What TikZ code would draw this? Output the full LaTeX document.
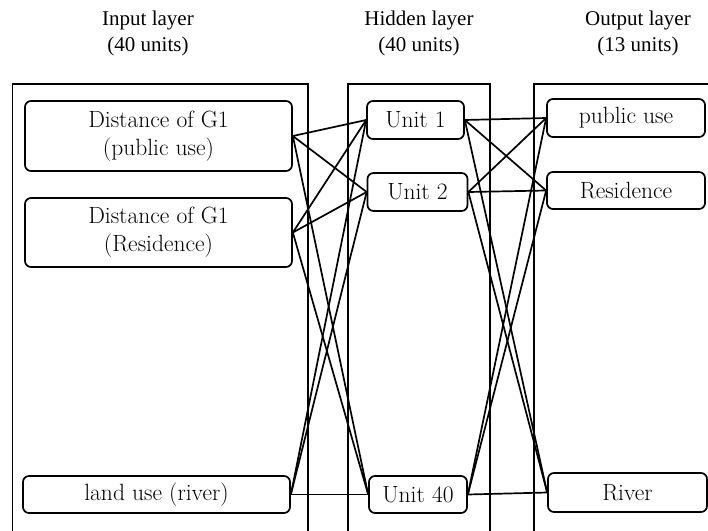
\documentclass[tikz,border=0pt]{standalone}
\usepackage{fontspec}
\newfontfamily\titlefont{Liberation Serif}
\begin{document}
\begin{tikzpicture}[x=1pt,y=-1pt,
  unitbox/.style={draw, rounded corners=6pt, line width=1.7pt, inner sep=0pt, align=center,
    font=\fontsize{23.5}{28}\selectfont},
  layerbox/.style={draw, line width=1.4pt},
  conn/.style={line width=1.7pt},
  title/.style={anchor=base, inner sep=0pt, font=\titlefont\fontsize{21}{25}\selectfont}]
\useasboundingbox (0,0) rectangle (708,530);
\clip (0,0) rectangle (708,530);
\fill[white] (0,0) rectangle (708,530);
% layer frames
\draw[layerbox] (12.7,84) rectangle (308,560);
\draw[layerbox] (348,84) rectangle (490,560);
\draw[layerbox] (534,84) rectangle (720,560);
% titles
\node[title] (t1) at (148,25) {Input layer};
\node[title] (t1b) at (148,51) {(40 units)};
\node[title] (t2) at (419,25) {Hidden layer};
\node[title] (t2b) at (419,51) {(40 units)};
\node[title] (t3) at (638,25) {Output layer};
\node[title] (t3b) at (638,51) {(13 units)};
% input nodes
\node[unitbox, minimum width=267pt, minimum height=70pt] (in1) at (158.5,136) {Distance of G1\\(public use)};
\node[unitbox, minimum width=267pt, minimum height=69pt] (in2) at (158.5,232.5) {Distance of G1\\(Residence)};
\node[unitbox, minimum width=267pt, minimum height=37pt] (in40) at (156.5,494.5) {land use (river)};
% hidden nodes
\node[unitbox, minimum width=97pt, minimum height=38pt] (h1) at (415.5,120) {Unit 1};
\node[unitbox, minimum width=100pt, minimum height=38pt] (h2) at (417.5,192) {Unit 2};
\node[unitbox, minimum width=98pt, minimum height=37pt] (h40) at (418,494.5) {Unit 40};
% output nodes
\node[unitbox, minimum width=158pt, minimum height=38pt] (o1) at (626,118) {public use};
\node[unitbox, minimum width=158pt, minimum height=37pt] (o2) at (626,190.5) {Residence};
\node[unitbox, minimum width=159pt, minimum height=39pt] (o40) at (627.5,492.5) {River};
% connections
\foreach \a in {in1,in2,in40}
  \foreach \b in {h1,h2,h40}
    \draw[conn] (\a.east) -- (\b.west);
\foreach \a in {h1,h2,h40}
  \foreach \b in {o1,o2,o40}
    \draw[conn] (\a.east) -- (\b.west);
\end{tikzpicture}
\end{document}
